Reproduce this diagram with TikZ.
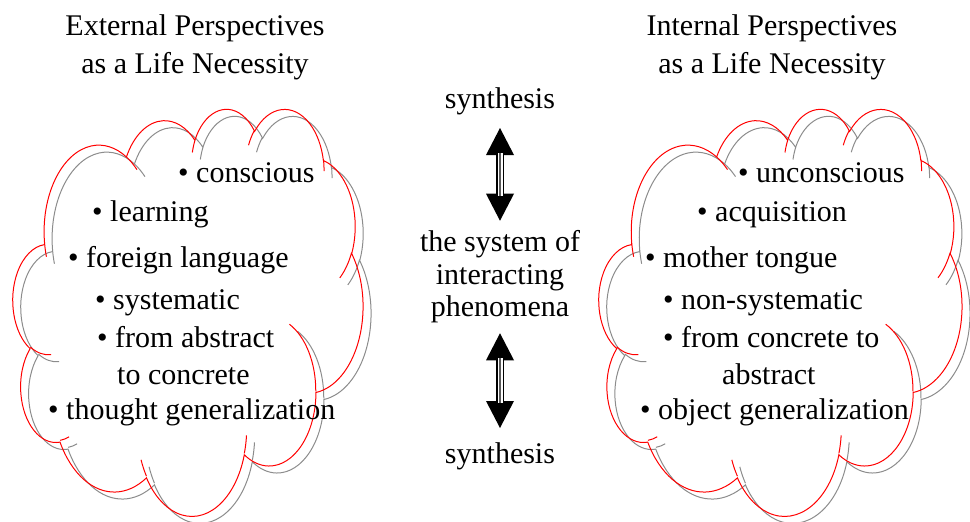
\documentclass[tikz,border=0pt]{standalone}
\usepackage{fontspec}
\setmainfont{Liberation Serif}
\usepackage{tikz}
\usetikzlibrary{arrows.meta}
\definecolor{cloudred}{RGB}{255,0,0}
\definecolor{shadowgray}{RGB}{140,140,140}
\definecolor{midgray}{RGB}{90,90,90}

% ellipse angles: visual -> parametric
\tikzset{declare function={
  visang(\ang,\rw,\rh)=atan2(sin(\ang)*\rw,cos(\ang)*\rh);
  angfix(\ang,\rw,\rh)=Mod(visang(\ang,\rw,\rh)-\ang+180,360)-180;
}}
\newcommand{\lobe}[4]{arc[x radius=#1, y radius=#2, start angle={visang(#3,#1,#2)}, delta angle={#4+angfix(#3+#4,#1,#2)-angfix(#3,#1,#2)}]}
\newcommand{\cloudpath}{%
  (3.900,14.370) \lobe{6.753}{9.190}{-190.4875}{123.7805}
  \lobe{5.333}{7.267}{-144.1024}{89.9452}
  \lobe{4.365}{5.945}{-145.8079}{99.7230}
  \lobe{4.857}{6.595}{-130.9861}{117.2417}
  \lobe{5.333}{7.273}{-78.7089}{109.0269}
  \lobe{6.775}{9.220}{-46.2673}{130.2690}
  \lobe{5.785}{7.867}{0.6250}{114.0333}
  \lobe{6.752}{9.215}{22.4516}{115.1726}
  \lobe{7.720}{10.543}{66.2426}{75.7110}
  \lobe{4.360}{5.918}{-274.9421}{146.7356}
  \lobe{4.345}{5.945}{-246.8285}{152.5189} -- cycle
  (4.693,26.177) \lobe{4.345}{5.945}{86.7420}{26.4295}
  (6.928,34.899) \lobe{4.360}{5.918}{73.6105}{11.4475}
  (16.478,39.090) \lobe{6.752}{9.215}{137.6242}{14.0811}
  (28.827,34.751) \lobe{6.752}{9.215}{6.4533}{15.9984}
  (34.129,22.954) \lobe{5.785}{7.867}{-70.2924}{70.9174}
  (41.798,15.354) \lobe{5.333}{7.273}{30.3180}{27.7515}
  (38.324,5.426) \lobe{4.857}{6.595}{-13.7443}{14.8589}
  (29.078,3.952) \lobe{4.857}{6.595}{-149.1815}{18.1954}
  (22.141,4.720) \lobe{4.365}{5.945}{-163.4943}{17.6864}
  (14.000,5.192) \lobe{6.753}{9.190}{-66.7070}{12.3194}
  (4.127,15.789) \lobe{6.753}{9.190}{157.6544}{11.8582}}

\begin{document}
\begin{tikzpicture}[x=1pt, y=-1pt, font=\fontsize{30}{38}\selectfont,
  >={Triangle[width=28pt,length=27pt,line width=0pt]},
  cloudline/.style={cloudred, line width=1pt},
  shadowline/.style={shadowgray, line width=1pt},
  itemtext/.style={anchor=west, inner sep=0pt, text height=21pt, text depth=6pt},
  twoway/.style={<->, line width=8pt,
    postaction={draw, arrows=-, white, line width=5pt, shorten <=25pt, shorten >=25pt},
    postaction={draw, arrows=-, midgray, line width=1.6pt, shorten <=25pt, shorten >=25pt}}]

\useasboundingbox (0,0) rectangle (970,522);

% external cloud
\begin{scope}[shift={(21,115)}, xscale=8.10, yscale=9.42]
\draw[shadowline] \cloudpath;
\end{scope}
\begin{scope}[shift={(13,108)}, xscale=8.10, yscale=9.42]
\draw[cloudline] \cloudpath;
\end{scope}

% internal cloud
\begin{scope}[shift={(607,115)}, xscale=8.40, yscale=9.42]
\draw[shadowline] \cloudpath;
\end{scope}
\begin{scope}[shift={(599,108)}, xscale=8.40, yscale=9.42]
\draw[cloudline] \cloudpath;
\end{scope}

\node[align=center, inner sep=0pt] (exthead) at (195,47.5) {External Perspectives\\as a Life Necessity};
\node[align=center, inner sep=0pt] (inthead) at (772,47.5) {Internal Perspectives\\as a Life Necessity};

\node[itemtext] (conscious) at (178,175) {• conscious};
\node[itemtext] (learning) at (92,214) {• learning};
\node[itemtext] (foreign) at (68,260) {• foreign language};
\node[itemtext] (systematic) at (95,302) {• systematic};
\node[itemtext] (abstrconc) at (97,340) {• from abstract};
\node[itemtext] (abstrconc2) at (117,377) {to concrete};
\node[itemtext] (thought) at (48,412) {• thought generalization};

\node[itemtext] (unconscious) at (738,175) {• unconscious};
\node[itemtext] (acquisition) at (697,214) {• acquisition};
\node[itemtext] (mother) at (645,260) {• mother tongue};
\node[itemtext] (nonsystematic) at (663,302) {• non-systematic};
\node[itemtext] (concabstr) at (663,340) {• from concrete to};
\node[itemtext] (concabstr2) at (722,377) {abstract};
\node[itemtext] (object) at (640,412) {• object generalization};

\node[inner sep=0pt, text height=21pt, text depth=6pt, outer sep=13.5pt] (syntop) at (500,101) {synthesis};
\node[align=center, inner sep=0pt, outer sep=10pt, font=\fontsize{30}{32.5}\selectfont] (system) at (500,277) {the system of\\interacting\\phenomena};
\node[inner sep=0pt, text height=21pt, text depth=6pt, outer sep=14.5pt] (synbot) at (500,456) {synthesis};

\draw[twoway] (syntop) -- (system);
\draw[twoway] (system) -- (synbot);
\end{tikzpicture}
\end{document}
